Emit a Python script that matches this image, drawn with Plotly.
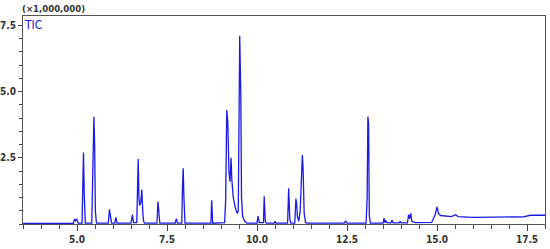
import plotly.graph_objects as go

# retention time (min) and TIC intensity (x1,000,000), vertices
rt = [3.50, 4.90, 4.93, 4.96, 4.99, 5.03, 5.14, 5.16, 5.18, 5.20, 5.23,
      5.41, 5.43, 5.45, 5.47, 5.49, 5.51, 5.54, 5.87, 5.90, 5.93, 5.96,
      6.05, 6.08, 6.11, 6.50, 6.54, 6.57, 6.66, 6.68, 6.70, 6.72, 6.74,
      6.77, 6.80, 6.83, 6.85, 6.88, 7.22, 7.25, 7.27, 7.30, 7.73, 7.76,
      7.79, 7.91, 7.93, 7.95, 7.97, 8.00, 8.72, 8.74, 8.77, 9.10, 9.13,
      9.16, 9.19, 9.22, 9.25, 9.28, 9.30, 9.34, 9.40, 9.45, 9.48, 9.50,
      9.52, 9.55, 9.57, 9.60, 9.65, 9.72, 10.00, 10.03, 10.06, 10.18,
      10.20, 10.23, 10.26, 10.48, 10.50, 10.53, 10.85, 10.88, 10.91,
      10.94, 11.05, 11.08, 11.10, 11.12, 11.16, 11.20, 11.23, 11.26,
      11.28, 11.31, 11.35, 11.40, 12.43, 12.46, 12.50, 13.03, 13.06,
      13.08, 13.10, 13.12, 13.15, 13.50, 13.53, 13.55, 13.58, 13.62,
      13.72, 13.75, 13.78, 13.95, 13.98, 14.00, 14.18, 14.21, 14.24,
      14.27, 14.30, 14.40, 14.85, 14.95, 15.00, 15.04, 15.10, 15.40,
      15.52, 15.58, 16.00, 16.50, 17.00, 17.40, 17.60, 18.00]
tic = [0.02, 0.02, 0.18, 0.12, 0.20, 0.03, 0.03, 1.60, 2.70, 1.20, 0.03,
       0.03, 1.70, 3.50, 4.05, 3.00, 0.50, 0.03, 0.03, 0.55, 0.20, 0.03,
       0.03, 0.25, 0.03, 0.03, 0.35, 0.05, 0.05, 2.20, 2.45, 1.00, 0.70,
       0.80, 1.30, 0.40, 0.10, 0.03, 0.03, 0.85, 0.50, 0.03, 0.03, 0.20,
       0.03, 0.03, 1.40, 2.10, 1.00, 0.03, 0.03, 0.90, 0.03, 0.05, 0.90,
       4.30, 3.80, 2.00, 1.60, 2.50, 1.70, 1.00, 0.60, 0.40, 0.50, 4.90,
       7.10, 4.90, 1.00, 0.30, 0.12, 0.03, 0.03, 0.30, 0.05, 0.05,
       1.05, 0.10, 0.03, 0.03, 0.10, 0.03, 0.03, 1.35, 0.20,
       0.03, 0.03, 0.95, 0.80, 0.30, 0.10, 0.50, 2.10, 2.60,
       2.10, 0.40, 0.05, 0.03, 0.03, 0.12, 0.03, 0.03, 1.00,
       4.05, 3.80, 0.30, 0.03, 0.03, 0.22, 0.05, 0.12, 0.04,
       0.04, 0.15, 0.04, 0.04, 0.10, 0.04, 0.04, 0.35, 0.20,
       0.40, 0.10, 0.05, 0.06, 0.35, 0.65, 0.40, 0.32, 0.28,
       0.35, 0.28, 0.25, 0.26, 0.25, 0.27, 0.33, 0.33]

x_ticks = [5.0, 7.5, 10.0, 12.5, 15.0, 17.5]
y_ticks = [2.5, 5.0, 7.5]

fig = go.Figure()
fig.add_trace(go.Scatter(x=rt, y=tic, mode='lines', line=dict(color='#1a1ae6', width=1.3),
                         showlegend=False))

tickfont = dict(family='DejaVu Sans Condensed, DejaVu Sans', size=10, color='#333333', weight='bold')
fig.update_xaxes(range=[3.5, 18.0], tickvals=x_ticks, ticktext=['%.1f' % v for v in x_ticks],
                 ticks='outside', ticklen=6, tickcolor='#444', tickfont=tickfont, automargin=False,
                 minor=dict(ticks='outside', dtick=0.5, tick0=0, ticklen=4, tickcolor='#444'),
                 showline=True, linecolor='#555', mirror=True, showgrid=False, zeroline=False)
fig.update_yaxes(range=[0.0, 7.85], tickvals=y_ticks, ticktext=['%.1f' % v for v in y_ticks],
                 ticks='outside', ticklen=4, tickcolor='#444', tickfont=tickfont, automargin=False,
                 minor=dict(ticks='outside', dtick=0.5, tick0=0, ticklen=3, tickcolor='#444'),
                 showline=True, linecolor='#555', mirror=True, showgrid=False, zeroline=False)

fig.add_annotation(x=0, y=1, xref='paper', yref='paper', xanchor='left', yanchor='bottom',
                   text='(×1,000,000)', showarrow=False, xshift=-3, yshift=0,
                   font=dict(family='DejaVu Sans Condensed, DejaVu Sans', size=9.5,
                             color='#333333', weight='bold'))
fig.add_annotation(x=0, y=1, xref='paper', yref='paper', xanchor='left', yanchor='top',
                   text='TIC', showarrow=False, xshift=-1, yshift=0,
                   font=dict(family='DejaVu Sans Condensed, DejaVu Sans', size=12, color='#2020d0'))

fig.update_layout(width=550, height=249, margin=dict(l=23, r=5, t=16, b=25),
                  plot_bgcolor='white', paper_bgcolor='white')
fig.write_html('out.html', config={'displayModeBar': False},
               post_script="document.body.style.margin='0';")
